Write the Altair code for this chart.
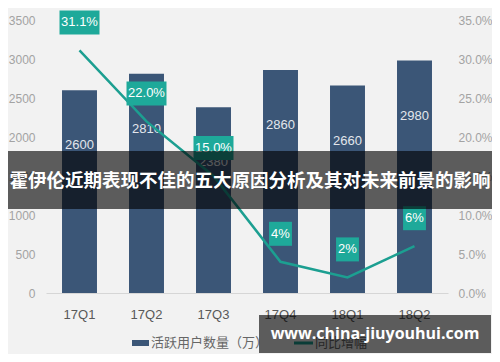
import altair as alt
import pandas as pd

quarters = ["17Q1", "17Q2", "17Q3", "17Q4", "18Q1", "18Q2"]
users = [2600, 2810, 2380, 2860, 2660, 2980]
growth = [31.1, 22.0, 15.0, 4, 2, 6]
growth_labels = ["31.1%", "22.0%", "15.0%", "4%", "2%", "6%"]
left_ticks = [0, 500, 1000, 1500, 2000, 2500, 3000, 3500]
right_ticks = [0, 5, 10, 15, 20, 25, 30, 35]
legend_labels = ["活跃用户数量（万）", "同比增幅"]
title_text = "霍伊伦近期表现不佳的五大原因分析及其对未来前景的影响"
url_text = "www.china-jiuyouhui.com"

BAR = "#3b5677"
TEAL = "#1ea99a"
LINE = "#1c9f91"
NUM_FONT = "Liberation Sans"
CJK = "Noto Sans CJK SC"

df = pd.DataFrame({"q": quarters, "users": users, "growth": growth, "glabel": growth_labels})
one = pd.DataFrame({"k": [0]})

base = alt.Chart(df)
xenc = alt.X("q:N", sort=quarters, title=None,
             scale=alt.Scale(paddingInner=0.478, paddingOuter=0.239),
             axis=alt.Axis(labelAngle=0, labelFont=NUM_FONT, labelFontSize=13, labelColor="#595959",
                           ticks=False, domainColor="#d6d6d6", labelPadding=15, grid=False))

yl = alt.Y("users:Q", title=None, scale=alt.Scale(domain=[0, 3500], nice=False),
           axis=alt.Axis(values=left_ticks, format="d", orient="left", labelFont=NUM_FONT, labelFontSize=12,
                         labelColor="#a3a3a3", ticks=False, domain=False, grid=False, labelPadding=11))
bars = base.mark_bar(color=BAR).encode(x=xenc, y=yl)
bar_labels = base.mark_text(color="#e2e6ec", font=NUM_FONT, fontSize=13, dy=55, baseline="middle").encode(
    x=xenc, y=yl, text=alt.Text("users:Q", format="d"))
left = alt.layer(bars, bar_labels)

yr = alt.Y("growth:Q", title=None, scale=alt.Scale(domain=[0, 35], nice=False),
           axis=alt.Axis(values=right_ticks, orient="right", labelExpr="format(datum.value, '.1f') + '%'",
                         labelFont=NUM_FONT, labelFontSize=12, labelColor="#a3a3a3", ticks=False,
                         domain=False, grid=False, labelPadding=10))
line = base.mark_line(color=LINE, strokeWidth=2.5).encode(x=xenc, y=yr)
boxes = base.transform_calculate(bw="5.7*length(datum.glabel)+11.5").mark_bar(
    color=TEAL, yOffset=-16, y2Offset=-40).encode(
    x=xenc, y=yr, y2=alt.Y2("growth"),
    size=alt.Size("bw:Q", scale=None, legend=None))
box_labels = base.mark_text(color="white", font=NUM_FONT, fontSize=13, dy=-28, baseline="middle").encode(
    x=xenc, y=yr, text="glabel:N")
right = alt.layer(line, boxes, box_labels)

dec = alt.Chart(one)
sw1 = dec.mark_rect(color=BAR).encode(x=alt.value(86), x2=alt.value(103), y=alt.value(320), y2=alt.value(326))
lt1 = dec.mark_text(align="left", baseline="middle", font=CJK, fontSize=13, color="#666666").encode(
    x=alt.value(105), y=alt.value(323), text=alt.value(legend_labels[0]))
sw2 = dec.mark_rule(color=LINE, strokeWidth=3).encode(x=alt.value(248), x2=alt.value(267), y=alt.value(323))
lt2 = dec.mark_text(align="left", baseline="middle", font=CJK, fontSize=13, color="#666666").encode(
    x=alt.value(269), y=alt.value(323), text=alt.value(legend_labels[1]))
banner = dec.mark_rect(color="black", opacity=0.62).encode(
    x=alt.value(-38), x2=alt.value(446), y=alt.value(131), y2=alt.value(189))
btxt = dec.mark_text(align="center", baseline="middle", font=CJK, fontSize=18.5, fontWeight="bold",
                     color="white").encode(x=alt.value(204), y=alt.value(161), text=alt.value(title_text))
ubox = dec.mark_rect(color="black", opacity=0.62).encode(
    x=alt.value(213), x2=alt.value(445), y=alt.value(295), y2=alt.value(333))
utxt = dec.mark_text(align="center", baseline="middle", font="Open Sans", fontSize=16, fontWeight="bold",
                     color="white").encode(x=alt.value(329), y=alt.value(314), text=alt.value(url_text))

chart = alt.layer(left, right, sw1, lt1, sw2, lt2, banner, btxt, ubox, utxt).resolve_scale(
    y="independent").properties(
    width=402, height=273, background="#f2f2f2",
    padding={"left": 38, "top": 12, "right": 44, "bottom": 61},
    autosize=alt.AutoSizeParams(type="none")
).configure_view(stroke=None)

chart.save("out.html", embed_options={"renderer": "svg", "actions": False})
